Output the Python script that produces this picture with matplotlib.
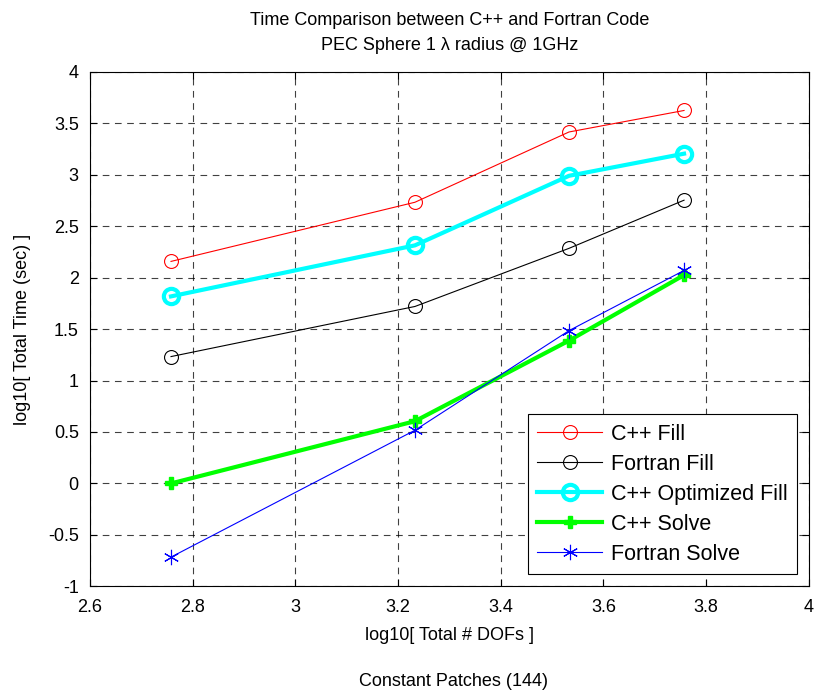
import numpy as np
import matplotlib
matplotlib.use('Agg')
import matplotlib.pyplot as plt

plt.rcParams['font.family'] = ['Liberation Sans', 'DejaVu Sans']

# log10 of total DOFs
x = [2.758, 3.233, 3.533, 3.757]

cpp_fill = [2.158, 2.733, 3.416, 3.625]
fortran_fill = [1.233, 1.720, 2.285, 2.753]
cpp_opt_fill = [1.818, 2.314, 2.990, 3.205]
cpp_solve = [0.0, 0.605, 1.388, 2.025]
fortran_solve = [-0.716, 0.517, 1.485, 2.070]

xticks = [2.6, 2.8, 3.0, 3.2, 3.4, 3.6, 3.8, 4.0]
xticklabels = ['2.6', '2.8', '3', '3.2', '3.4', '3.6', '3.8', '4']
yticks = [-1, -0.5, 0, 0.5, 1, 1.5, 2, 2.5, 3, 3.5, 4]
yticklabels = ['-1', '-0.5', '0', '0.5', '1', '1.5', '2', '2.5', '3', '3.5', '4']

fs = 13

fig = plt.figure(figsize=(8.17, 6.98), dpi=100)
ax = fig.add_axes([0.110, 0.160, 0.880, 0.737])

ax.plot(x, cpp_fill, color='red', lw=0.8, marker='o', ms=10, mfc='none', mec='red', mew=0.8, label='C++ Fill')
ax.plot(x, fortran_fill, color='black', lw=0.8, marker='o', ms=10, mfc='none', mec='black', mew=0.8, label='Fortran Fill')
ax.plot(x, cpp_opt_fill, color='cyan', lw=3, marker='o', ms=11, mfc='none', mec='cyan', mew=3, label='C++ Optimized Fill')
ax.plot(x, cpp_solve, color='#00ff00', lw=3, marker='P', ms=8, mfc='#00ff00', mec='#00ff00', label='C++ Solve')
ax.plot(x, fortran_solve, color='blue', lw=0.8, marker=(6, 2, 0), ms=11, mec='blue', mew=0.8, label='Fortran Solve')

ax.set_xlim(2.6, 4.0)
ax.set_ylim(-1, 4)
ax.set_xticks(xticks)
ax.set_xticklabels(xticklabels)
ax.set_yticks(yticks)
ax.set_yticklabels(yticklabels)
ax.tick_params(direction='in', top=True, right=True, length=5, labelsize=fs)
ax.tick_params(axis='x', pad=9)
ax.tick_params(axis='y', pad=8)
ax.grid(True, color='black', linestyle=(0, (6, 5)), lw=0.8, alpha=0.75)
for s in ax.spines.values():
    s.set_linewidth(0.8)

ax.set_xlabel('log10[ Total # DOFs ]', fontsize=fs, labelpad=8)
ax.set_ylabel('log10[ Total Time (sec) ]', fontsize=fs, labelpad=12)
ax.set_title('Time Comparison between C++ and Fortran Code\nPEC Sphere 1 λ radius @ 1GHz',
             fontsize=fs, linespacing=1.6, pad=16)
fig.text(0.555, 0.0165, 'Constant Patches (144)', ha='center', fontsize=fs)

leg = ax.legend(loc='lower right', fontsize=15.5, fancybox=False, edgecolor='black',
                framealpha=1, handlelength=3.0, handletextpad=0.4, borderpad=0.45,
                borderaxespad=0.55, labelspacing=0.42)
leg.get_frame().set_linewidth(0.8)

fig.savefig('out.png', dpi=100)
